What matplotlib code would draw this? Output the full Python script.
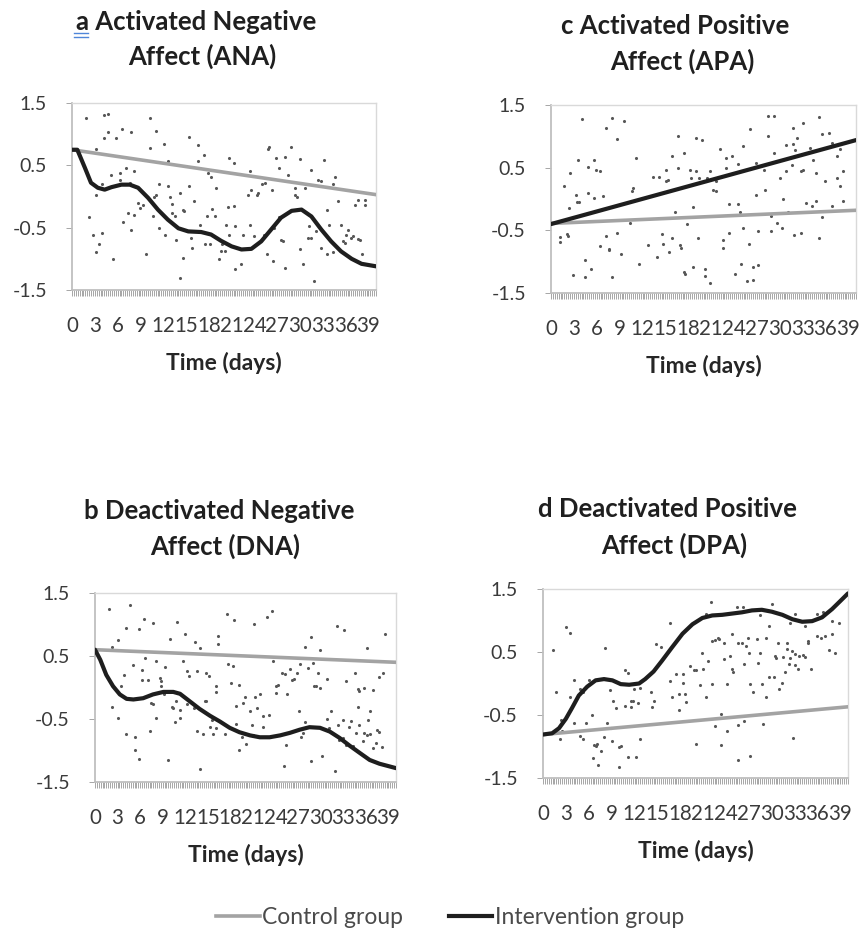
import numpy as np
import matplotlib
matplotlib.use("Agg")
import matplotlib.pyplot as plt
from matplotlib.lines import Line2D

plt.rcParams['font.family'] = ['Lato', 'DejaVu Sans']

# x axis: days, labels every 3rd day
day_labels = [0, 3, 6, 9, 12, 15, 18, 21, 24, 27, 30, 33, 36, 39]
y_ticks = [1.5, 0.5, -0.5, -1.5]
y_tick_labels = ["1.5", "0.5", "-0.5", "-1.5"]

# linear trend lines run from day 0 to day 40
trend_days = [0, 40]

# ---- a  Activated Negative Affect (ANA) ----
ana_points = [
    (1.9, 1.26), (4.2, 1.30), (4.7, 1.33), (4.2, 0.94), (4.7, 1.03), (5.8, 0.94), (6.6, 1.09),
    (7.8, 1.03), (10.2, 1.26), (11.0, 1.05), (10.2, 0.78), (12.1, 0.85), (3.1, 0.77), (15.4, 0.95),
    (16.6, 0.82), (17.4, 0.67), (16.6, 0.57), (12.6, 0.57), (20.7, 0.62), (21.3, 0.53), (25.8, 0.77),
    (25.9, 0.79), (26.9, 0.62), (28.0, 0.63), (28.8, 0.79), (30.0, 0.60), (27.2, 0.46), (31.5, 0.43),
    (33.2, 0.59), (32.4, 0.27), (32.8, 0.25), (34.6, 0.31), (34.3, 0.20), (23.4, 0.41), (17.9, 0.38),
    (18.3, 0.31), (25.4, 0.22), (25.0, 0.20), (28.4, 0.34), (26.3, 0.11), (29.3, 0.14), (30.7, 0.14),
    (29.3, 0.03), (29.6, 0.00), (23.5, 0.11), (23.2, 0.03), (24.5, 0.06), (24.3, 0.02), (35.0, -0.07),
    (37.2, -0.14), (37.6, -0.05), (38.5, -0.05), (38.6, -0.14), (33.6, -0.21), (37.0, -0.64),
    (37.6, -0.68), (37.9, -0.70), (36.3, -0.53), (35.4, -0.45), (33.8, -0.45), (38.1, -0.93),
    (2.3, -0.33), (2.8, -0.61), (3.9, -0.59), (3.6, -0.76), (3.1, -0.89), (5.4, -1.00), (6.7, -0.41),
    (7.4, -0.26), (7.8, -0.54), (8.2, -0.29), (8.7, -0.10), (9.0, -0.18), (9.3, -0.13), (9.8, -0.93),
    (10.7, -0.32), (10.8, 0.00), (11.0, 0.02), (11.4, -0.51), (11.4, 0.20), (12.6, 0.17), (12.2, -0.61),
    (13.1, -0.26), (13.5, -0.32), (13.7, -0.69), (13.1, -0.12), (14.6, -0.21), (14.8, -0.24),
    (14.2, 0.06), (15.4, 0.17), (16.1, -0.07), (15.7, -0.67), (15.8, -0.83), (14.6, -0.99),
    (14.2, -1.31), (16.9, -0.45), (17.5, -0.76), (17.8, -0.32), (18.4, -0.20), (18.8, -0.32),
    (19.0, 0.14), (18.1, -0.77), (19.4, -1.01), (19.7, -0.77), (19.6, -0.88), (20.1, -0.88),
    (20.2, -0.45), (20.5, -0.17), (21.3, -0.16), (21.4, -0.48), (20.7, -0.61), (21.5, -1.17),
    (22.3, -1.09), (22.5, -0.61), (23.4, -0.45), (24.0, -0.64), (25.3, -0.61), (25.7, -0.93),
    (26.4, -1.03), (26.6, -0.51), (27.2, -0.33), (27.5, -0.69), (27.7, -0.72), (28.0, -1.15),
    (30.0, -0.85), (30.4, -1.09), (31.2, -0.48), (31.1, -0.67), (31.5, -0.66), (32.1, -0.56),
    (31.9, -1.35), (32.8, -0.83), (33.6, -0.93), (34.3, -0.89), (35.7, -0.72), (35.9, -0.75),
    (36.0, -0.61), (36.7, -0.67), (3.2, 0.02), (3.9, 0.20), (5.1, 0.34), (6.3, 0.38), (6.3, 0.27),
    (7.1, 0.46), (8.2, 0.41), (12.9, 0.00), (7.6, 0.22),
]
ana_control = [0.75, 0.03]
ana_curve_days = [0, 0.7, 1.7, 2.5, 3.4, 4.3, 5.2, 6.5, 7.6, 8.7, 10.0, 11.3, 12.6, 14.0, 15.3, 17.0,
                  18.3, 19.6, 21.0, 22.3, 23.6, 24.9, 26.2, 27.5, 28.9, 30.2, 31.5, 32.8, 34.1, 35.4,
                  36.8, 38.1, 40]
ana_curve_vals = [0.75, 0.75, 0.46, 0.22, 0.14, 0.11, 0.15, 0.19, 0.19, 0.14, -0.02, -0.21, -0.37,
                  -0.51, -0.56, -0.57, -0.61, -0.71, -0.80, -0.85, -0.84, -0.72, -0.53, -0.34, -0.23,
                  -0.21, -0.32, -0.53, -0.72, -0.88, -1.00, -1.08, -1.12]

# ---- c  Activated Positive Affect (APA) ----
apa_points = [
    (4.1, 1.27), (8.0, 1.30), (9.6, 1.25), (7.2, 1.13), (8.7, 0.96), (16.6, 1.01), (19.0, 0.97),
    (19.8, 0.94), (26.1, 1.11), (28.4, 1.32), (29.3, 1.32), (31.7, 1.14), (33.1, 1.22), (35.1, 1.31),
    (35.5, 1.03), (36.4, 1.05), (28.4, 1.01), (32.3, 0.97), (30.8, 0.86), (31.7, 0.88), (32.0, 0.78),
    (25.2, 0.85), (22.2, 0.80), (29.2, 0.73), (34.0, 0.81), (34.3, 0.62), (36.8, 0.89), (37.9, 0.80),
    (37.5, 0.68), (11.2, 0.65), (3.6, 0.63), (5.6, 0.62), (15.9, 0.69), (17.4, 0.74), (23.7, 0.69),
    (23.0, 0.65), (24.5, 0.56), (26.9, 0.57), (27.9, 0.46), (31.6, 0.54), (30.8, 0.45), (33.0, 0.46),
    (32.8, 0.44), (34.8, 0.41), (38.3, 0.44), (2.5, 0.41), (1.7, 0.21), (4.9, 0.51), (5.9, 0.47),
    (6.4, 0.45), (15.1, 0.46), (16.6, 0.49), (18.2, 0.47), (19.0, 0.44), (20.9, 0.44), (22.9, 0.49),
    (13.4, 0.35), (14.2, 0.35), (15.1, 0.29), (15.3, 0.30), (18.3, 0.33), (19.4, 0.33), (20.5, 0.33),
    (21.7, 0.28), (21.3, 0.15), (21.7, 0.12), (30.0, 0.33), (35.9, 0.29), (37.5, 0.33), (37.9, 0.20),
    (10.8, 0.17), (10.6, 0.12), (4.8, 0.10), (5.6, 0.02), (6.8, 0.05), (3.3, 0.06), (3.4, -0.04),
    (3.7, -0.05), (2.4, -0.14), (18.6, -0.12), (23.3, -0.08), (24.5, -0.08), (24.8, -0.20),
    (26.9, 0.07), (28.1, 0.14), (30.4, 0.00), (33.5, -0.07), (34.2, -0.11), (34.8, -0.03),
    (36.9, -0.11), (38.3, -0.03), (16.2, -0.20), (31.1, -0.20), (28.8, -0.27), (35.5, -0.29),
    (29.6, -0.38), (30.3, -0.47), (25.2, -0.46), (27.2, -0.51), (28.8, -0.51), (23.3, -0.54),
    (31.9, -0.57), (32.8, -0.54), (35.1, -0.63), (1.2, -0.60), (1.2, -0.68), (2.1, -0.56),
    (2.2, -0.59), (10.3, -0.38), (17.8, -0.40), (7.2, -0.59), (8.7, -0.55), (14.6, -0.56),
    (15.9, -0.63), (19.3, -0.63), (22.5, -0.66), (26.0, -0.72), (6.4, -0.75), (7.6, -0.80),
    (7.6, -0.82), (9.2, -0.88), (12.7, -0.74), (13.9, -0.93), (14.7, -0.72), (15.5, -0.85),
    (16.9, -0.74), (17.1, -0.78), (22.5, -0.78), (11.5, -1.03), (4.4, -0.97), (5.2, -1.12),
    (2.9, -1.22), (4.4, -1.24), (8.0, -1.24), (17.4, -1.16), (17.6, -1.19), (18.6, -1.08),
    (20.2, -1.11), (20.2, -1.23), (20.9, -1.34), (24.1, -1.20), (24.9, -1.04), (25.7, -1.31),
    (26.5, -1.29), (26.5, -1.08), (27.2, -1.06),
]
apa_control = [-0.39, -0.18]
apa_curve_days = [0, 40]
apa_curve_vals = [-0.40, 0.94]

# ---- b  Deactivated Negative Affect (DNA) ----
dna_points = [
    (1.8, 1.25), (4.6, 1.31), (3.0, 0.76), (2.2, 0.65), (4.1, 0.95), (5.8, 0.93), (6.5, 1.09),
    (7.7, 1.03), (10.0, 0.77), (10.9, 1.04), (12.0, 0.85), (13.3, 0.72), (14.0, 0.62), (16.4, 0.81),
    (16.4, 0.69), (17.6, 1.17), (18.5, 1.07), (21.1, 1.01), (22.8, 1.12), (23.5, 1.22), (23.6, 0.42),
    (27.9, 0.64), (28.7, 0.80), (29.9, 0.60), (32.2, 0.97), (33.1, 0.91), (36.2, 0.63), (38.5, 0.85),
    (3.8, 0.20), (5.0, 0.35), (6.2, 0.27), (6.6, 0.47), (6.2, 0.12), (7.1, 0.12), (8.1, 0.42),
    (8.6, 0.15), (8.8, 0.11), (9.3, 0.32), (8.8, 0.02), (11.7, 0.42), (12.2, 0.26), (12.5, 0.19),
    (13.6, 0.26), (14.7, 0.23), (15.1, 0.18), (16.1, 0.02), (16.1, -0.07), (17.7, 0.37), (18.4, 0.34),
    (18.1, 0.07), (19.2, 0.04), (18.8, -0.30), (19.7, -0.25), (19.9, -0.15), (21.2, -0.15),
    (20.6, -0.37), (21.9, -0.10), (21.5, -0.33), (22.3, -0.46), (23.1, -0.44), (24.0, 0.02),
    (24.3, 0.04), (24.0, -0.09), (24.9, 0.23), (25.2, 0.21), (25.5, -0.10), (25.9, 0.29), (26.2, 0.12),
    (26.4, 0.14), (26.8, 0.23), (27.2, 0.37), (28.3, 0.31), (29.0, 0.39), (29.6, 0.23), (29.1, 0.03),
    (29.4, 0.03), (29.9, 0.00), (30.8, 0.14), (33.4, 0.10), (34.6, 0.23), (35.1, -0.06), (35.0, -0.03),
    (35.7, -0.01), (36.9, -0.04), (37.7, 0.16), (38.3, 0.23),
    (3.5, 0.03), (2.2, -0.31), (3.0, -0.49), (4.1, -0.74), (5.3, -0.79), (5.3, -0.99), (5.8, -1.13),
    (7.3, -0.69), (7.5, -0.25), (7.7, -0.26), (8.1, -0.49), (9.2, -0.11), (9.7, -1.15), (10.2, -0.31),
    (10.4, -0.33), (10.8, -0.22), (11.3, -0.48), (10.6, -0.54), (11.3, -0.35), (12.2, -0.26),
    (13.1, -0.33), (13.6, -0.69), (14.4, -0.74), (14.6, -0.22), (14.8, -0.22), (15.5, -0.51),
    (15.7, -0.74), (15.3, -0.63), (16.1, -0.64), (17.3, -0.74), (18.7, -0.58), (19.2, -0.99),
    (19.6, -0.78), (20.0, -0.90), (20.8, -0.59), (21.0, -0.75), (22.3, -0.62), (14.0, -1.29),
    (25.1, -1.25), (25.4, -0.92), (27.1, -0.37), (27.4, -0.78), (27.7, -0.72), (27.9, -0.54),
    (28.7, -1.17), (30.2, -1.08), (30.8, -0.50), (31.1, -0.64), (31.3, -0.38), (31.9, -1.33),
    (32.3, -0.59), (32.4, -0.83), (32.9, -0.80), (33.0, -0.51), (33.4, -0.91), (33.8, -0.62),
    (34.0, -0.53), (34.3, -0.93), (34.7, -0.72), (35.0, -0.31), (35.1, -0.60), (35.6, -0.85),
    (35.8, -0.73), (36.3, -0.52), (36.2, -0.75), (36.6, -0.74), (36.5, -0.38), (36.9, -0.96),
    (37.5, -0.67), (37.8, -0.70), (38.2, -0.94), (37.3, -0.88),
]
dna_control = [0.60, 0.40]
dna_curve_days = [0, 0.7, 1.5, 2.4, 3.3, 4.2, 5.1, 6.4, 7.7, 9.1, 10.4, 11.3, 12.6, 13.9, 15.3, 16.6,
                  17.9, 19.2, 20.6, 21.9, 23.2, 24.6, 25.9, 27.2, 28.5, 29.9, 31.2, 32.5, 33.8, 35.2,
                  36.5, 37.8, 40]
dna_curve_vals = [0.60, 0.44, 0.20, 0.02, -0.11, -0.18, -0.19, -0.17, -0.11, -0.07, -0.07, -0.10,
                  -0.22, -0.34, -0.45, -0.54, -0.64, -0.71, -0.76, -0.79, -0.79, -0.76, -0.72, -0.67,
                  -0.63, -0.64, -0.70, -0.80, -0.92, -1.04, -1.15, -1.21, -1.28]

# ---- d  Deactivated Positive Affect (DPA) ----
dpa_points = [
    (1.3, 0.53), (3.0, 0.89), (3.6, 0.80), (8.1, 0.57), (16.7, 0.96), (14.8, 0.63), (15.5, 0.58),
    (1.7, -0.14), (3.6, -0.22), (4.1, 0.06), (4.9, -0.09), (5.2, -0.14), (6.0, 0.06), (2.4, -0.58),
    (2.5, -0.75), (2.2, -0.88), (4.1, -0.63), (5.6, -0.63), (6.4, -0.50), (4.9, -0.83), (5.2, -0.88),
    (6.7, -0.97), (7.0, -0.99), (7.1, -0.96), (7.6, -1.07), (6.5, -1.18), (7.2, -1.29), (8.0, -0.85),
    (8.4, -0.62), (8.9, -0.71), (9.1, -0.91), (10.0, -1.00), (10.2, -0.99), (10.0, -1.32),
    (11.2, -1.16), (12.2, -1.16), (12.7, -0.88), (8.8, -0.11), (9.2, -0.27), (9.6, -0.39),
    (10.7, -0.35), (10.7, 0.21), (11.2, 0.16), (11.5, -0.27), (11.6, -0.38), (11.8, -0.27),
    (12.4, -0.31), (11.9, -0.09), (12.7, -0.07), (14.2, -0.14), (14.5, -0.27), (14.3, -0.37),
    (16.6, 0.04), (16.9, -0.21), (17.4, 0.15), (17.8, -0.42), (17.8, -0.17), (18.3, 0.15),
    (18.3, 0.01), (18.6, -0.17), (18.7, -0.30), (19.3, 0.28), (19.8, 0.21), (20.1, 0.21), (21.0, 0.23),
    (20.6, -0.02), (20.9, 0.48), (21.4, -0.22), (21.7, 0.36), (22.2, 0.00), (22.2, 0.67), (22.5, 0.69),
    (23.1, 0.71), (23.7, 0.64), (23.7, 0.39), (24.1, -0.01), (24.5, 0.44), (24.8, 0.23), (24.9, 0.19),
    (24.8, 0.78), (25.6, 0.65), (26.1, 0.65), (26.6, 0.60), (26.4, 0.31), (26.9, 0.73), (27.0, 0.49),
    (27.2, 0.00), (27.6, -0.13), (28.1, 0.71), (28.2, 0.32), (28.4, 0.49), (28.7, -0.01), (29.2, 0.72),
    (29.3, -0.22), (29.6, 0.92), (29.6, 0.11), (30.3, 0.11), (30.4, 0.43), (30.6, 0.40), (30.8, 0.64),
    (31.0, -0.09), (31.3, 0.01), (31.5, 0.42), (31.7, 0.18), (32.0, 0.64), (32.0, 0.55), (32.2, 0.31),
    (32.4, 0.40), (32.6, 0.52), (33.0, 0.47), (33.1, 0.30), (33.5, 0.23), (33.6, 0.44), (34.1, 0.46),
    (34.3, 0.42), (34.8, 0.68), (34.8, 0.65), (35.2, 0.23), (35.9, 0.76), (36.4, 0.72), (37.0, 0.76),
    (37.9, 0.79), (38.3, 0.49), (37.9, 1.00), (38.8, 0.96), (37.5, 0.53), (35.9, 1.11), (36.7, 1.13),
    (32.4, 0.96), (33.0, 1.11), (34.3, 0.92), (30.0, 1.26), (28.4, 1.08), (26.2, 1.21), (25.4, 1.21),
    (23.0, 0.72), (22.0, 1.30), (21.4, 1.11), (25.6, -0.66), (26.3, -0.59), (27.2, -1.15),
    (25.6, -1.22), (23.3, -0.48), (23.3, -0.98), (22.5, -0.67), (24.1, -0.76), (20.1, -0.96),
    (28.8, -0.64), (32.8, -0.87),
]
dpa_control = [-0.81, -0.37]
dpa_curve_days = [0, 1.2, 2.1, 3.0, 3.8, 4.7, 5.8, 6.9, 8.0, 9.1, 10.2, 11.3, 12.6, 13.4, 14.5, 15.6,
                  16.9, 18.3, 19.6, 20.9, 22.2, 23.5, 24.8, 26.1, 27.4, 28.7, 30.0, 31.4, 32.7, 34.0,
                  35.3, 36.6, 37.9, 39.0, 40]
dpa_curve_vals = [-0.81, -0.79, -0.71, -0.56, -0.39, -0.19, -0.05, 0.05, 0.07, 0.05, -0.01, -0.02,
                  0.00, 0.07, 0.19, 0.36, 0.57, 0.79, 0.94, 1.04, 1.08, 1.09, 1.11, 1.13, 1.16, 1.17,
                  1.14, 1.09, 1.02, 0.98, 0.99, 1.05, 1.18, 1.31, 1.43]

CONTROL_COLOR = '#a3a3a3'
INTERV_COLOR = '#1e1e1e'
W, H = 859, 931

fig = plt.figure(figsize=(W / 100, H / 100), dpi=100)


def draw_panel(box, points, control, curve_days, curve_vals):
    # box = (left, top, right, bottom) of the plot area in pixels
    l, t, r, b = box
    ax = fig.add_axes([l / W, 1 - b / H, (r - l) / W, (b - t) / H])
    pts = np.array(points)
    ax.scatter(pts[:, 0], pts[:, 1], s=5, color='#575757', linewidths=0, zorder=2)
    ax.plot(trend_days, control, color=CONTROL_COLOR, lw=2.6, zorder=3)
    ax.plot(curve_days, curve_vals, color=INTERV_COLOR, lw=3.0, zorder=4,
            solid_capstyle='round', solid_joinstyle='round')
    ax.set_xlim(0, 40)
    ax.set_ylim(-1.5, 1.5)
    ax.set_yticks(y_ticks)
    ax.set_yticklabels(y_tick_labels)
    ax.set_xticks(day_labels)
    ax.set_xticklabels([str(d) for d in day_labels])
    ax.set_xticks(np.arange(0, 40.01, 0.25), minor=True)
    ax.tick_params(axis='both', which='both', direction='out', length=4, width=0.7,
                   color='#a6a6a6', labelcolor='#3a3a3a')
    ax.tick_params(axis='y', pad=14, labelsize=14)
    ax.tick_params(axis='x', pad=15, labelsize=14.8)
    for side in ['top', 'right']:
        ax.spines[side].set_color('#d9d9d9')
        ax.spines[side].set_linewidth(1.0)
    for side in ['left', 'bottom']:
        ax.spines[side].set_color('#bfbfbf')
        ax.spines[side].set_linewidth(1.3)
    ax.set_xlabel('Time (days)', fontsize=16.5, fontweight='bold', color='#262626')
    ax.xaxis.set_label_coords(0.5, -73 / (b - t))
    ax.xaxis.label.set_verticalalignment('center')
    return ax


draw_panel((72, 103, 376, 290), ana_points, ana_control, ana_curve_days, ana_curve_vals)
draw_panel((551, 105, 856, 293), apa_points, apa_control, apa_curve_days, apa_curve_vals)
draw_panel((95, 593, 396, 782), dna_points, dna_control, dna_curve_days, dna_curve_vals)
draw_panel((543, 589, 848, 778), dpa_points, dpa_control, dpa_curve_days, dpa_curve_vals)

# panel titles, two lines each (x centre, baseline y in pixels)
titles = [
    ("a Activated Negative", 196, 30), ("Affect (ANA)", 202, 65),
    ("c Activated Positive", 675, 34), ("Affect (APA)", 682, 70),
    ("b Deactivated Negative", 219, 519), ("Affect (DNA)", 225, 555),
    ("d Deactivated Positive", 667, 517), ("Affect (DPA)", 674, 554),
]
for txt, x, y in titles:
    fig.text(x / W, 1 - y / H, txt, ha='center', va='baseline', fontsize=18.5,
             fontweight='bold', color='#1f1f1f')

# blue double underline under the "a"
for yy in (32.5, 36.5):
    fig.add_artist(Line2D([74 / W, 88 / W], [1 - yy / H, 1 - yy / H], color='#4f86d9', lw=1.0))

handles = [Line2D([], [], color=CONTROL_COLOR, lw=2.6), Line2D([], [], color=INTERV_COLOR, lw=3.0)]
leg = fig.legend(handles, ['Control group', 'Intervention group'], loc='center',
                 bbox_to_anchor=(450 / W, 1 - 918 / H), ncol=2, frameon=False, fontsize=16.5,
                 handlelength=1.9, handletextpad=0.1, columnspacing=2.0)
for t in leg.get_texts():
    t.set_color('#4a4a4a')

fig.savefig('out.png', dpi=100)
